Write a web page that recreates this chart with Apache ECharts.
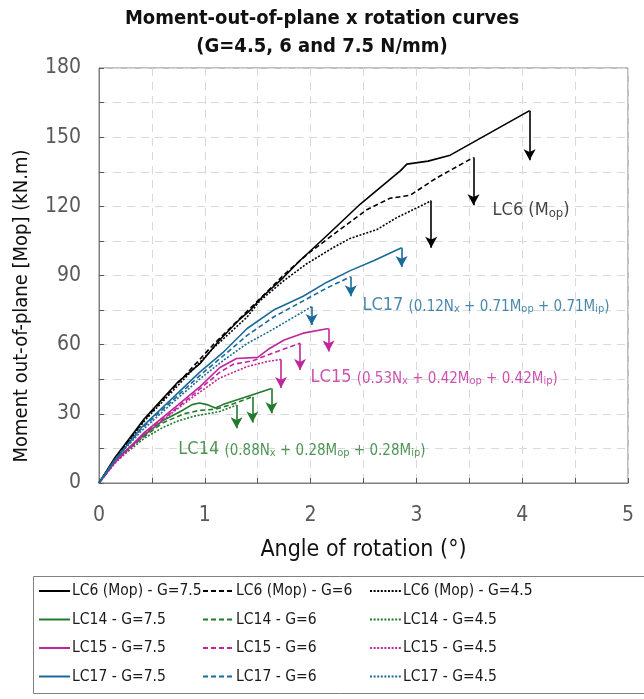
<!DOCTYPE html>
<html>
<head>
<meta charset="utf-8">
<script src="https://cdn.jsdelivr.net/npm/echarts@6/dist/echarts.min.js"></script>
<style>
html,body{margin:0;padding:0;background:#fff;}
#c{width:644px;height:699px;}
</style>
</head>
<body>
<div id="c"></div>
<script>
// ---- data (angle in degrees, moment in kN.m) ----
const xTicks = [0, 1, 2, 3, 4, 5];
const yTicks = [0, 30, 60, 90, 120, 150, 180];

const lc6_75 = [[0,0],[0.15,11],[0.43,28],[0.75,44],[0.96,52],[1.14,62],[1.33,71],[1.43,75],[1.55,81],[1.74,89],[1.9,96.5],[2.17,108],[2.47,121],[2.85,135.5],[2.91,138.3],[3.11,139.6],[3.32,142.2],[4.07,161.5]];
const lc6_60 = [[0,0],[0.15,10.5],[0.43,27.5],[0.75,43.5],[1.08,60],[1.4,74.5],[1.59,83],[1.74,90],[1.99,100],[2.28,110],[2.53,118.5],[2.75,123.5],[2.94,124.8],[3.19,132.3],[3.54,141.2]];
const lc6_45 = [[0,0],[0.15,10],[0.43,27],[0.75,42.5],[1.08,58.5],[1.4,72],[1.52,79],[1.74,87.5],[1.96,95],[2.21,102],[2.37,106],[2.63,110],[2.81,115],[3.14,122.4]];

const lc14_75 = [[0,0],[0.15,10],[0.38,19],[0.6,27],[0.77,31],[0.88,34],[0.95,34.7],[1.02,34],[1.1,32.5],[1.17,34],[1.43,38],[1.63,41]];
const lc14_60 = [[0,0],[0.15,9.5],[0.38,18.5],[0.6,26],[0.8,30],[0.95,31.5],[1.1,32],[1.25,34],[1.45,37.4]];
const lc14_45 = [[0,0],[0.15,9],[0.43,19.5],[0.6,24],[0.75,27],[0.9,29],[1.14,31],[1.3,33.8]];

const lc15_75 = [[0,0],[0.15,9],[0.43,22],[0.75,34],[0.96,42],[1.14,50],[1.3,54],[1.5,54.5],[1.6,58],[1.75,62],[1.93,65],[2.17,67]];
const lc15_60 = [[0,0],[0.15,9],[0.43,21.5],[0.75,33],[0.96,41],[1.14,48],[1.27,51.5],[1.45,53],[1.65,56.5],[1.9,60.6]];
const lc15_45 = [[0,0],[0.15,8.5],[0.43,21],[0.75,32.5],[0.91,38],[1.14,45.5],[1.4,50.5],[1.6,52.8],[1.72,53.6]];

const lc17_75 = [[0,0],[0.15,10],[0.4,24],[0.7,37],[0.95,48],[1.17,56.5],[1.4,67],[1.65,75],[1.93,81],[2.15,87],[2.37,92],[2.6,96.5],[2.86,102]];
const lc17_60 = [[0,0],[0.15,10],[0.4,23.5],[0.7,36],[0.95,46.5],[1.17,55],[1.4,64],[1.65,72],[1.93,79],[2.15,84.5],[2.38,89.5]];
const lc17_45 = [[0,0],[0.15,10],[0.4,22.5],[0.7,35],[0.95,45],[1.17,53],[1.4,60.5],[1.6,65.5],[1.75,69.5],[2.01,76.5]];

// moment value reached at the tip of each failure arrow
const arrowTips = {
  lc6_75: 140, lc6_60: 120.5, lc6_45: 102,
  lc14_75: 30.2, lc14_60: 26.2, lc14_45: 23.7,
  lc15_75: 57, lc15_60: 49, lc15_45: 41.2,
  lc17_75: 93.7, lc17_60: 81, lc17_45: 68.5
};

// annotation anchors (data coordinates)
const notes = [
  {key: 'lc6',  at: [3.72, 119], color: '#111111'},
  {key: 'lc17', at: [2.49, 78],  color: '#1b6a9a'},
  {key: 'lc15', at: [2.00, 46.5], color: '#c0269c'},
  {key: 'lc14', at: [0.75, 15.5], color: '#237a2c'}
];

// ---- styling ----
const FONT = '"DejaVu Sans Condensed","Liberation Sans",sans-serif';
const colors = {lc6: '#000000', lc14: '#237a2c', lc15: '#c0269c', lc17: '#1b6a9a'};
const dashes = {'75': 'solid', '60': [5, 3], '45': [2, 1.6]};
const names = {
  lc6_75: 'LC6 (Mop) - G=7.5', lc6_60: 'LC6 (Mop) - G=6', lc6_45: 'LC6 (Mop) - G=4.5',
  lc14_75: 'LC14 - G=7.5', lc14_60: 'LC14 - G=6', lc14_45: 'LC14 - G=4.5',
  lc15_75: 'LC15 - G=7.5', lc15_60: 'LC15 - G=6', lc15_45: 'LC15 - G=4.5',
  lc17_75: 'LC17 - G=7.5', lc17_60: 'LC17 - G=6', lc17_45: 'LC17 - G=4.5'
};
const dataMap = {lc6_75, lc6_60, lc6_45, lc14_75, lc14_60, lc14_45, lc15_75, lc15_60, lc15_45, lc17_75, lc17_60, lc17_45};

const series = [];
Object.keys(dataMap).forEach(function (k) {
  const grp = k.split('_')[0], g = k.split('_')[1];
  const d = dataMap[k];
  const last = d[d.length - 1];
  series.push({
    name: names[k],
    type: 'line',
    data: d,
    symbol: 'none',
    showSymbol: false,
    smooth: false,
    animation: false,
    z: 3,
    lineStyle: {color: colors[grp], width: 1.6, type: dashes[g]},
    itemStyle: {color: colors[grp]},
    markLine: {
      silent: true,
      animation: false,
      symbol: ['none', 'arrow'],
      symbolSize: [9, 11],
      label: {show: false},
      lineStyle: {color: colors[grp], width: 1.6, type: 'solid'},
      data: [[{coord: [last[0], last[1]]}, {coord: [last[0], arrowTips[k]]}]]
    }
  });
});

function sm(t) { return '{s|' + t + '}'; }
function sb(t) { return '{b|' + t + '}'; }
const noteText = {
  lc6: '{L|LC6 (M}{sb|op}{L|)}',
  lc17: '{L|LC17 }' + sm('(0.12N') + sb('x') + sm(' + 0.71M') + sb('op') + sm(' + 0.71M') + sb('ip') + sm(')'),
  lc15: '{L|LC15 }' + sm('(0.53N') + sb('x') + sm(' + 0.42M') + sb('op') + sm(' + 0.42M') + sb('ip') + sm(')'),
  lc14: '{L|LC14 }' + sm('(0.88N') + sb('x') + sm(' + 0.28M') + sb('op') + sm(' + 0.28M') + sb('ip') + sm(')')
};
notes.forEach(function (n) {
  series.push({
    type: 'scatter',
    data: [n.at],
    symbolSize: 0,
    silent: true,
    animation: false,
    z: 5,
    label: {
      show: true,
      position: 'right',
      distance: 0,
      formatter: noteText[n.key],
      rich: {
        L: {fontSize: 18, color: n.color, fontFamily: FONT, lineHeight: 22, verticalAlign: 'bottom'},
        sb: {fontSize: 13, color: n.color, fontFamily: FONT, lineHeight: 22, verticalAlign: 'bottom', padding: [4, 0, 0, 0]},
        s: {fontSize: 15, color: n.color, fontFamily: FONT, lineHeight: 22, verticalAlign: 'bottom'},
        b: {fontSize: 11, color: n.color, fontFamily: FONT, lineHeight: 22, verticalAlign: 'bottom', padding: [4, 0, 0, 0]}
      }
    }
  });
});

const legendCommon = {
  orient: 'vertical',
  top: 583,
  padding: 0,
  itemWidth: 31,
  itemHeight: 14,
  itemGap: 12.5,
  selectedMode: false,
  itemStyle: {color: 'transparent', borderColor: 'transparent', borderWidth: 0},
  textStyle: {fontFamily: FONT, fontSize: 15.5, color: '#1a1a1a', lineHeight: 16, padding: [0, 0, 0, -3]}
};

const option = {
  backgroundColor: '#ffffff',
  animation: false,
  title: {
    text: 'Moment-out-of-plane x rotation curves\n(G=4.5, 6 and 7.5 N/mm)',
    left: 'center',
    top: 0,
    textStyle: {fontFamily: FONT, fontWeight: 'bold', fontSize: 20, lineHeight: 28, color: '#111111'}
  },
  grid: {left: 99, right: 16, top: 68, bottom: 216, show: true, borderColor: '#808080', borderWidth: 1},
  xAxis: {
    type: 'value', min: 0, max: 5, interval: 0.5,
    name: 'Angle of rotation (°)', nameLocation: 'middle', nameGap: 56,
    nameTextStyle: {fontFamily: FONT, fontSize: 23, color: '#111111'},
    axisLine: {show: true, lineStyle: {color: '#808080', width: 1}},
    axisTick: {show: true, inside: true, length: 5, lineStyle: {color: '#595959'}},
    axisLabel: {
      margin: 22, fontFamily: FONT, fontSize: 21, color: '#595959',
      formatter: function (v) { return xTicks.indexOf(v) >= 0 ? String(v) : ''; }
    },
    splitLine: {show: true, lineStyle: {color: '#d9d9d9', type: [8, 6], width: 1}}
  },
  yAxis: {
    type: 'value', min: 0, max: 180, interval: 15,
    axisLine: {show: true, lineStyle: {color: '#808080', width: 1}},
    axisTick: {show: true, inside: true, length: 5, lineStyle: {color: '#595959'}},
    axisLabel: {
      margin: 18, fontFamily: FONT, fontSize: 21, color: '#595959',
      formatter: function (v) { return yTicks.indexOf(v) >= 0 ? String(v) : ''; }
    },
    splitLine: {show: true, lineStyle: {color: '#d9d9d9', type: [8, 6], width: 1}}
  },
  legend: [
    Object.assign({left: 38, data: [names.lc6_75, names.lc14_75, names.lc15_75, names.lc17_75]}, legendCommon),
    Object.assign({left: 202, data: [names.lc6_60, names.lc14_60, names.lc15_60, names.lc17_60]}, legendCommon),
    Object.assign({left: 369, data: [names.lc6_45, names.lc14_45, names.lc15_45, names.lc17_45]}, legendCommon)
  ],
  graphic: [
    {
      type: 'rect', silent: true,
      shape: {x: 33.5, y: 576.5, width: 640, height: 117},
      style: {fill: 'none', stroke: '#808080', lineWidth: 1}
    },
    {
      type: 'text', silent: true,
      x: 22, y: 306, rotation: Math.PI / 2,
      style: {
        text: 'Moment out-of-plane [Mop] (kN.m)',
        font: '20px ' + FONT, fill: '#111111',
        align: 'center', verticalAlign: 'middle'
      }
    }
  ],
  series: series
};

const chart = echarts.init(document.getElementById('c'), null, {renderer: 'canvas'});
chart.setOption(option);
</script>
</body>
</html>
